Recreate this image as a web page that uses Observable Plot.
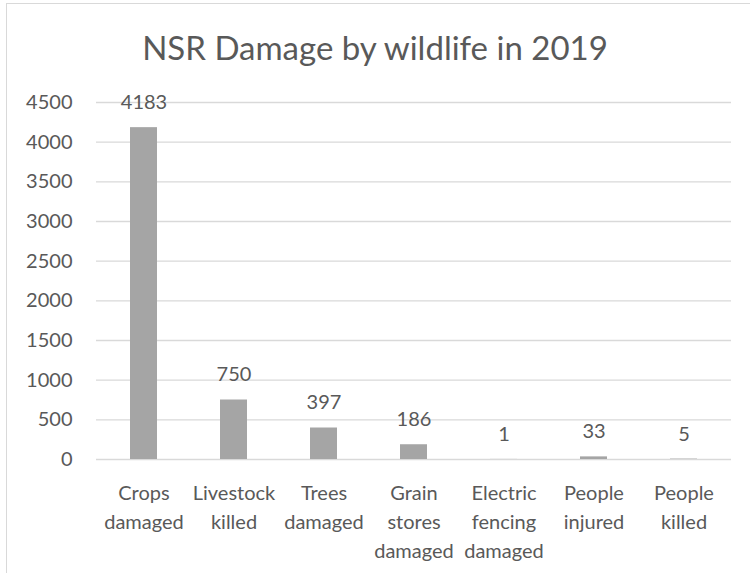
<!DOCTYPE html>
<html>
<head>
<meta charset="utf-8">
<script src="https://cdn.jsdelivr.net/npm/d3@7"></script>
<script src="https://cdn.jsdelivr.net/npm/@observablehq/plot@0.6"></script>
<style>
  html, body { margin: 0; padding: 0; background: #fff; }
  #wrap { position: relative; width: 750px; height: 573px; overflow: hidden; font-family: Lato, "Open Sans", sans-serif; }
  #frame { position: absolute; left: 6px; top: 3px; width: 750px; height: 600px; border: 1px solid #d9d9d9; box-sizing: border-box; }
  #title { position: absolute; left: 0; width: 750px; top: 26px; text-align: center; font-size: 33px; color: #595959; line-height: 42px; }
  #chart { position: absolute; left: 0; top: 0; }
</style>
</head>
<body>
<div id="wrap">
  <div id="frame"></div>
  <div id="chart"></div>
  <div id="title">NSR Damage by wildlife in 2019</div>
</div>
<script>
const categories = ["Crops damaged", "Livestock killed", "Trees damaged", "Grain stores damaged", "Electric fencing damaged", "People injured", "People killed"];
const values = [4183, 750, 397, 186, 1, 33, 5];
const categoryLabels = ["Crops\ndamaged", "Livestock\nkilled", "Trees\ndamaged", "Grain\nstores\ndamaged", "Electric\nfencing\ndamaged", "People\ninjured", "People\nkilled"];
const yTicks = [0, 500, 1000, 1500, 2000, 2500, 3000, 3500, 4000, 4500];

const data = categories.map((c, i) => ({category: c, value: values[i]}));
const labelOf = new Map(categories.map((c, i) => [c, categoryLabels[i]]));

const chart = Plot.plot({
  width: 750,
  height: 573,
  marginLeft: 96,
  marginRight: 19,
  marginTop: 102,
  marginBottom: 114,
  style: { fontFamily: "Lato, 'Open Sans', sans-serif", color: "#595959", background: "transparent", overflow: "visible" },
  x: { domain: categories, paddingInner: 0.695, paddingOuter: 0.3475, label: null },
  y: { domain: [0, 4500], label: null },
  marks: [
    Plot.gridY(yTicks, { stroke: "#d9d9d9", strokeOpacity: 1, strokeWidth: 1.3 }),
    Plot.barY(data, { x: "category", y: "value", fill: "#a5a5a5" }),
    Plot.text(data, { x: "category", y: "value", text: d => String(d.value), dy: -25, fontSize: 20, fill: "#595959" }),
    Plot.axisY(yTicks, { tickSize: 0, tickPadding: 24, fontSize: 20, fill: "#595959", label: null, tickFormat: d => String(d) }),
    Plot.axisX({ tickSize: 0, tickPadding: 20, fontSize: 20, fill: "#595959", lineHeight: 1.45, tickFormat: d => labelOf.get(d), label: null })
  ]
});
document.getElementById("chart").appendChild(chart);
</script>
</body>
</html>
